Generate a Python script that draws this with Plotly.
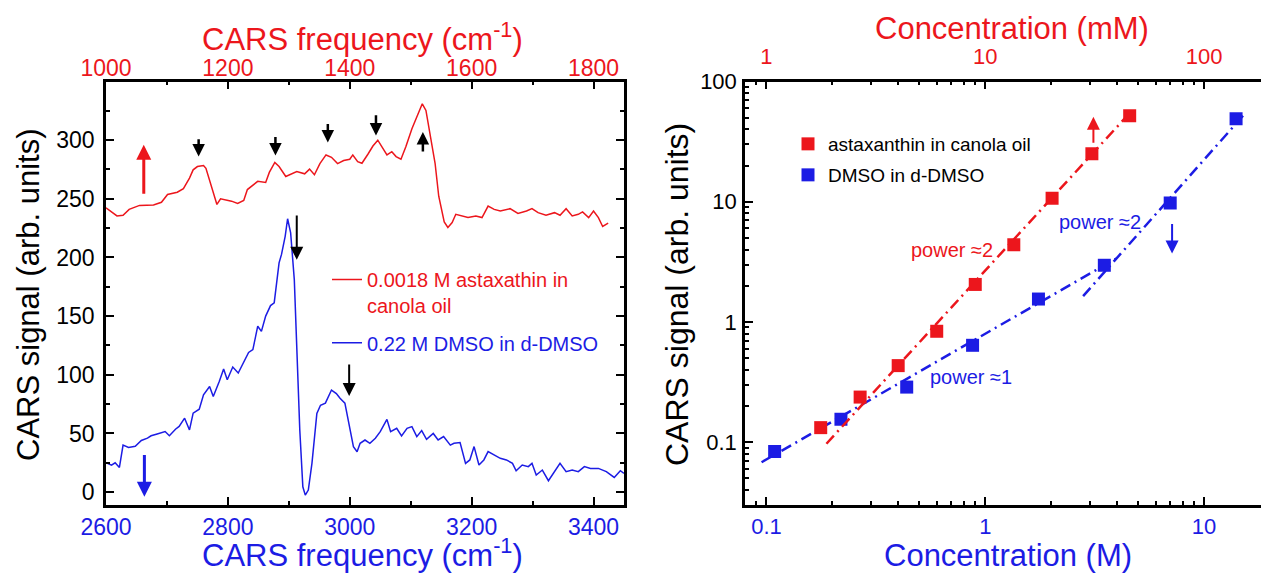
import numpy as np
import plotly.graph_objects as go

RED = 'rgb(236,22,28)'
BLUE = 'rgb(28,28,228)'
FONT = 'Liberation Sans, Arial, sans-serif'

# ---------------- left panel: CARS spectra ----------------
red_freq = [1000, 1018, 1028, 1038, 1055, 1078, 1091, 1101, 1117, 1127, 1137, 1143, 1150, 1160, 1164,
            1173, 1182, 1188, 1196, 1206, 1216, 1226, 1232, 1249, 1262, 1268, 1277, 1284, 1295, 1305,
            1313, 1326, 1334, 1342, 1351, 1361, 1370, 1380, 1390, 1400, 1405, 1413, 1420, 1430, 1438,
            1446, 1454, 1461, 1469, 1476, 1484, 1492, 1502, 1511, 1519, 1525, 1532, 1540, 1546, 1555,
            1561, 1568, 1574, 1584, 1594, 1607, 1617, 1627, 1637, 1647, 1663, 1676, 1690, 1699, 1709,
            1722, 1736, 1745, 1755, 1765, 1775, 1782, 1792, 1800, 1808, 1815, 1824]
red_sig = [242.4, 235.4, 236, 241, 244.4, 244.7, 247, 253.7, 255.6, 258.7, 267.7, 274.7, 277.5, 278.4, 276,
           260.7, 245.2, 250, 249.4, 248, 246, 248.6, 257.9, 264.9, 264, 272.5, 281, 277.5, 269, 271.3,
           273.3, 271.3, 275.3, 270.5, 280, 287.4, 285.4, 280, 282.6, 283.7, 287.4, 281.7, 280.3, 288.2, 295,
           300, 293, 287.4, 290.2, 286, 283.7, 294.4, 309.8, 321, 331, 325.3, 305.6, 280.3, 252.2, 230.3,
           225.6, 229.8, 236.8, 235.4, 234, 235.4, 234, 243.8, 241, 239.6, 241.6, 237.6, 239.6, 241.6, 238.2,
           236, 238.2, 236, 241.6, 235.4, 236.8, 238.8, 234, 239.6, 234, 226.4, 229.2]

blue_freq = [2600, 2609, 2615, 2622, 2628, 2637, 2648, 2658, 2668, 2674, 2684, 2697, 2704, 2714, 2720,
             2729, 2737, 2743, 2753, 2760, 2770, 2776, 2786, 2793, 2799, 2808, 2817, 2826, 2834, 2841,
             2849, 2855, 2862, 2870, 2876, 2884, 2888, 2894, 2898, 2903, 2909, 2913, 2918, 2923, 2927,
             2932, 2938, 2946, 2952, 2960, 2970, 2978, 2984, 2992, 2999, 3006, 3012, 3017, 3025, 3033,
             3042, 3050, 3061, 3067, 3077, 3085, 3094, 3102, 3110, 3118, 3126, 3137, 3145, 3154, 3165,
             3171, 3181, 3190, 3197, 3204, 3212, 3220, 3227, 3237, 3247, 3257, 3267, 3273, 3283, 3293,
             3299, 3306, 3316, 3326, 3336, 3345, 3355, 3365, 3375, 3385, 3395, 3408, 3421, 3434, 3444, 3450]
blue_sig = [25, 23, 25, 21, 40, 38, 39, 44, 46, 48, 49.6, 51.6, 48, 53.6, 56,
            63, 53, 67.3, 70.7, 83, 90, 81.5, 94.4, 105, 95.8, 106.6, 101.5, 111.5, 119, 121.5,
            141.4, 137, 150, 159, 161.4, 195.4, 202.6, 218, 233, 221, 181, 124, 53, 4.5, -2.6,
            1.7, 24.7, 67, 74, 75.8, 87, 84, 80, 75.8, 55.8, 38.7, 34.4, 41.6, 44.4, 41.6,
            45.9, 51.5, 62, 51.5, 54.4, 47.9, 54.4, 55.8, 47.3, 52.4, 45, 50, 44.4, 47.3, 40,
            41.6, 42.2, 24.5, 27.4, 38.8, 23.1, 27.4, 34.5, 31.7, 28.8, 27.4, 24.5, 18.2, 23.1, 21.7,
            24.5, 14.5, 18.8, 9.7, 17.4, 24.5, 17.4, 18.8, 17.4, 21.7, 20.2, 20.2, 17.4, 12.5, 18.2, 16]

left_y_ticks = [0, 50, 100, 150, 200, 250, 300]

# arrows in left panel: (tip x, tip y, tail x, tail y)
red_up_arrow = [1062, 296, 1062, 253]                      # top axis
black_red_arrows = [[1152, 286, 1152, 302], [1278, 287, 1278, 304],
                    [1364, 298, 1364, 315], [1443, 304, 1443, 322.5],
                    [1520, 307, 1520, 289]]                 # top axis
black_blue_arrows = [[2913, 198, 2913, 237], [2999, 82, 2999, 110]]  # bottom axis
blue_down_arrow = [2663, -4, 2663, 33]                      # bottom axis

# ---------------- right panel: concentration dependence ----------------
asta_mM = [1.77, 2.68, 4.0, 6.0, 9.0, 13.5, 20.2, 30.7, 45.7]
asta_sig = [0.132, 0.237, 0.433, 0.836, 2.05, 4.38, 10.7, 25.1, 52]
dmso_M = [0.109, 0.219, 0.4375, 0.875, 1.75, 3.5, 7.0, 14.0]
dmso_sig = [0.0836, 0.155, 0.287, 0.639, 1.55, 2.96, 9.75, 49]

asta_fit_mM = [1.88, 45]
asta_fit_sig = [0.097, 53]
dmso_fit1_M = [0.095, 4.0]
dmso_fit1_sig = [0.068, 3.4]
dmso_fit2_M = [2.8, 15.5]
dmso_fit2_sig = [1.64, 55]

asta_arrow = [31.2, 51, 31.2, 30]     # mM axis
dmso_arrow = [7.14, 3.7, 7.14, 6.7]   # M axis

power_labels = ['power \u22482', 'power \u22482', 'power \u22481']
power_x = [0.705, 3.33, 0.861]        # M axis
power_y = [3.96, 6.76, 0.35]
power_colors = [RED, BLUE, BLUE]

# ---------------- layout geometry (page pixels) ----------------
W, H = 1261, 574
L_dom = [106 / W, 624 / W]
R_dom = [745 / W, 1.0]
Y_dom = [1 - 505 / H, 1 - 81.5 / H]

fig = go.Figure()

fig.add_trace(go.Scatter(x=red_freq, y=red_sig, xaxis='x2', yaxis='y', mode='lines',
                         line=dict(color=RED, width=1.5),
                         name='0.0018 M astaxathin in<br>canola oil', legend='legend'))
fig.add_trace(go.Scatter(x=blue_freq, y=blue_sig, xaxis='x', yaxis='y', mode='lines',
                         line=dict(color=BLUE, width=1.5),
                         name='0.22 M DMSO in d-DMSO', legend='legend2'))

DD = '11px,5px,2px,5px'
fig.add_trace(go.Scatter(x=asta_fit_mM, y=asta_fit_sig, xaxis='x4', yaxis='y2', mode='lines',
                         line=dict(color=RED, width=2.5, dash=DD), showlegend=False))
fig.add_trace(go.Scatter(x=dmso_fit1_M, y=dmso_fit1_sig, xaxis='x3', yaxis='y2', mode='lines',
                         line=dict(color=BLUE, width=2.5, dash=DD), showlegend=False))
fig.add_trace(go.Scatter(x=dmso_fit2_M, y=dmso_fit2_sig, xaxis='x3', yaxis='y2', mode='lines',
                         line=dict(color=BLUE, width=2.5, dash=DD), showlegend=False))
fig.add_trace(go.Scatter(x=asta_mM, y=asta_sig, xaxis='x4', yaxis='y2', mode='markers',
                         marker=dict(symbol='square', size=13, color=RED, line=dict(width=0)),
                         name='astaxanthin in canola oil', legend='legend3'))
fig.add_trace(go.Scatter(x=dmso_M, y=dmso_sig, xaxis='x3', yaxis='y2', mode='markers',
                         marker=dict(symbol='square', size=13, color=BLUE, line=dict(width=0)),
                         name='DMSO in d-DMSO', legend='legend4'))

base = dict(showline=True, linecolor='black', linewidth=2.5, ticks='inside', tickcolor='black',
            tickwidth=2, showgrid=False, zeroline=False, automargin=False)


def minor(**kw):
    d = dict(ticks='inside', ticklen=4, tickwidth=2, tickcolor='black', showgrid=False)
    d.update(kw)
    return d


logax = dict(type='log', tick0=0, dtick=1, exponentformat='none', minor=minor(dtick='D1'))

fig.update_layout(
    width=W, height=H, margin=dict(l=0, r=0, t=0, b=0),
    paper_bgcolor='white', plot_bgcolor='white',
    font=dict(family=FONT, color='black'),
    xaxis=dict(base, domain=L_dom, range=[2600, 3450], anchor='y', side='bottom',
               tick0=2600, dtick=200, ticklen=8, minor=minor(dtick=100, tick0=2600),
               tickfont=dict(color=BLUE, size=23), ticklabelstandoff=0),
    xaxis2=dict(base, domain=L_dom, range=[1000, 1850], anchor='y', overlaying='x', side='top',
                tick0=1000, dtick=200, ticklen=8, minor=minor(dtick=100, tick0=1000),
                tickfont=dict(color=RED, size=23), ticklabelstandoff=-6),
    yaxis=dict(base, domain=Y_dom, range=[-11, 350], anchor='x', mirror='ticks',
               tickmode='array', tickvals=left_y_ticks, ticklen=8, minor=minor(dtick=25, tick0=0),
               tickfont=dict(size=23), ticklabelstandoff=4),
    xaxis3=dict(base, **logax, domain=R_dom, range=[-1.098, 1.26], anchor='y2', side='bottom',
                ticklen=8, tickfont=dict(color=BLUE, size=22), ticklabelstandoff=0),
    xaxis4=dict(base, **logax, domain=R_dom, range=[-0.098, 2.26], anchor='y2', overlaying='x3', side='top',
                ticklen=8, tickfont=dict(color=RED, size=22), ticklabelstandoff=6),
    yaxis2=dict(base, **logax, domain=Y_dom, range=[-1.523, 2.0], anchor='x3',
                ticklen=8, tickfont=dict(size=22), ticklabelstandoff=1),
    legend=dict(x=327 / W, y=1 - 292.5 / H, xanchor='left', yanchor='middle', valign='top',
                bgcolor='rgba(0,0,0,0)', font=dict(size=20, color=RED)),
    legend2=dict(x=327 / W, y=1 - 342.7 / H, xanchor='left', yanchor='middle',
                 bgcolor='rgba(0,0,0,0)', font=dict(size=20, color=BLUE)),
    legend3=dict(x=788 / W, y=1 - 144 / H, xanchor='left', yanchor='middle',
                 bgcolor='rgba(0,0,0,0)', font=dict(size=19, color='black')),
    legend4=dict(x=788 / W, y=1 - 175 / H, xanchor='left', yanchor='middle',
                 bgcolor='rgba(0,0,0,0)', font=dict(size=19, color='black')),
)

ann = []

# axis titles placed as paper annotations: (text, x px, y px, size, color, angle)
titles = [
    ('CARS frequency (cm<sup>-1</sup>)', 363, 37, 31, RED, 0),
    ('CARS frequency (cm<sup>-1</sup>)', 363, 553, 31, BLUE, 0),
    ('CARS signal (arb. units)', 28, 295, 31, 'black', -90),
    ('Concentration (mM)', 1012, 28, 31, RED, 0),
    ('Concentration (M)', 1008, 555, 31, BLUE, 0),
    ('CARS signal (arb. units)', 677, 295, 32, 'black', -90),
]
for t, px, py, s, c, ang in titles:
    ann.append(dict(xref='paper', yref='paper', x=px / W, y=1 - py / H, text=t, showarrow=False,
                    xanchor='center', yanchor='middle', textangle=ang,
                    font=dict(size=s, color=c)))


def arrow(xref, yref, a, color, width, size, log=False):
    x, y, ax, ay = a
    if log:
        x, y, ax, ay = np.log10(x), np.log10(y), np.log10(ax), np.log10(ay)
    return dict(xref=xref, yref=yref, axref=xref, ayref=yref, x=x, y=y, ax=ax, ay=ay, text='',
                showarrow=True, arrowhead=2, arrowwidth=width, arrowsize=size, arrowcolor=color,
                standoff=0, startstandoff=0)


ann.append(arrow('x2', 'y', red_up_arrow, RED, 3, 1.0))
for a in black_red_arrows:
    ann.append(arrow('x2', 'y', a, 'black', 2.5, 1.0))
for a in black_blue_arrows:
    ann.append(arrow('x', 'y', a, 'black', 2, 1.3))
ann.append(arrow('x', 'y', blue_down_arrow, BLUE, 3, 1.0))
ann.append(arrow('x4', 'y2', asta_arrow, RED, 2, 1.3, log=True))
ann.append(arrow('x3', 'y2', dmso_arrow, BLUE, 2, 1.3, log=True))

for t, px, py, c in zip(power_labels, power_x, power_y, power_colors):
    ann.append(dict(xref='x3', yref='y2', x=np.log10(px), y=np.log10(py), text=t, showarrow=False,
                    font=dict(size=20, color=c), xanchor='center', yanchor='middle'))

fig.update_layout(annotations=ann)
fig.write_html('out.html', config={'displayModeBar': False},
               post_script="document.body.style.margin='0px';document.body.style.overflow='hidden';")
